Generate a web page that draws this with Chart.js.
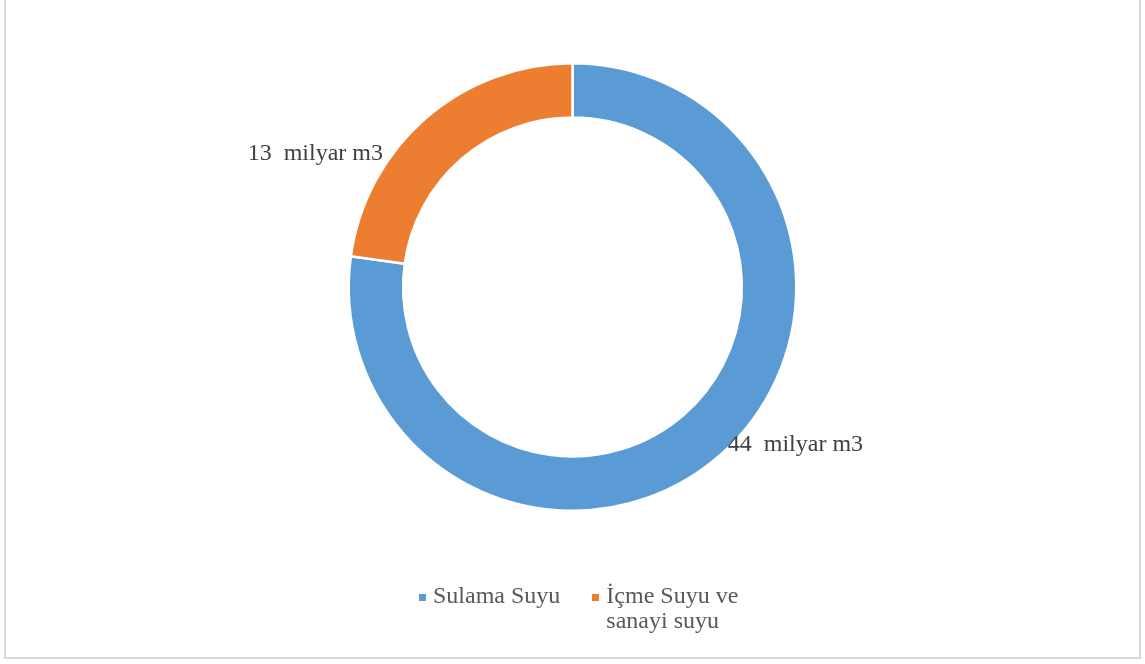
<!DOCTYPE html>
<html>
<head>
<meta charset="utf-8">
<script src="https://cdn.jsdelivr.net/npm/chart.js@4.4.1/dist/chart.umd.min.js"></script>
<style>
  html, body { margin: 0; padding: 0; background: #fff; }
  #wrap { position: relative; width: 1145px; height: 664px; overflow: hidden; }
  #frame { position: absolute; left: 4px; top: -3px; width: 1133px; height: 658px; border: 2px solid #d9d9d9; }
  #c { position: absolute; left: 0; top: 0; }
  #legend { position: absolute; top: 583px; left: 419px; display: flex; align-items: flex-start;
            font-family: "Liberation Serif", "Times New Roman", serif; font-size: 24px; color: #595959; line-height: 25px; }
  .item { display: flex; align-items: flex-start; margin-right: 32px; }
  .box { width: 7px; height: 7px; margin-top: 11px; margin-right: 7px; }
  .txt { max-width: 140px; }
</style>
</head>
<body>
<div id="wrap">
  <div id="frame"></div>
  <canvas id="c" width="1145" height="664"></canvas>
  <div id="legend"></div>
</div>
<script>
  // Veriler (milyar m3)
  const categories = ['Sulama Suyu', 'İçme Suyu ve sanayi suyu'];
  const values = [44, 13];
  const valueLabels = ['44  milyar m3', '13  milyar m3'];
  const colors = ['#5b9bd5', '#ed7d31'];

  // Etiket konumları: merkezden dış yarıçap oranında (x, y), hizalama
  const labelSpots = [
    { dx: 0.694, dy: 0.707, align: 'left' },
    { dx: -0.847, dy: -0.595, align: 'right' },
  ];

  const labelPlugin = {
    id: 'valueLabels',
    afterDatasetsDraw(chart) {
      const ctx = chart.ctx;
      const arcs = chart.getDatasetMeta(0).data;
      ctx.save();
      ctx.font = '24px "Liberation Serif", "Times New Roman", serif';
      ctx.fillStyle = '#404040';
      ctx.textBaseline = 'middle';
      arcs.forEach((arc, i) => {
        const spot = labelSpots[i];
        ctx.textAlign = spot.align;
        ctx.fillText(valueLabels[i], arc.x + spot.dx * arc.outerRadius, arc.y + spot.dy * arc.outerRadius);
      });
      ctx.restore();
    },
  };

  const chart = new Chart(document.getElementById('c'), {
    type: 'doughnut',
    data: {
      labels: categories,
      datasets: [{
        data: values,
        backgroundColor: colors,
        borderColor: '#ffffff',
        borderWidth: 2.5,
      }],
    },
    options: {
      responsive: false,
      animation: false,
      cutout: '75.7%',
      layout: { padding: { top: 62, bottom: 152, left: 0, right: 0 } },
      plugins: {
        legend: { display: false },
        tooltip: { enabled: false },
      },
    },
    plugins: [labelPlugin],
  });

  // HTML lejant
  const legendEl = document.getElementById('legend');
  categories.forEach((name, i) => {
    const item = document.createElement('div');
    item.className = 'item';
    item.innerHTML = '<span class="box" style="background:' + colors[i] + '"></span><span class="txt">' + name + '</span>';
    legendEl.appendChild(item);
  });
</script>
</body>
</html>
